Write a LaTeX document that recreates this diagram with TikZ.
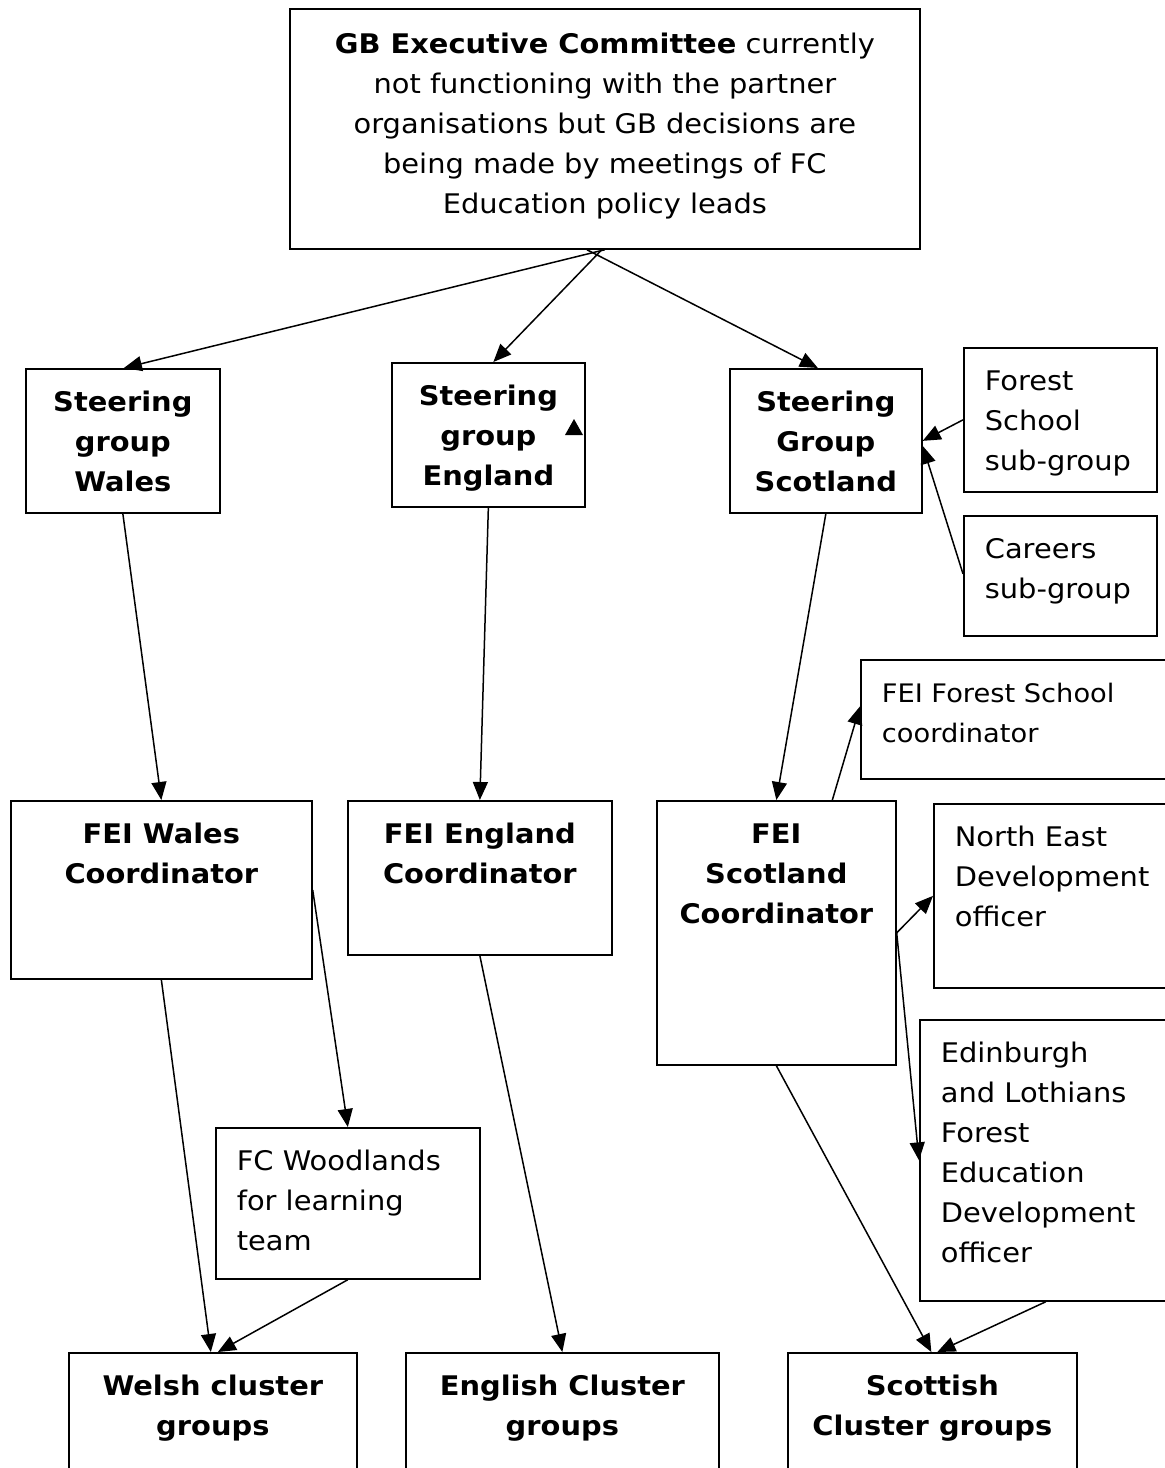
\documentclass[tikz,border=0pt]{standalone}
\usepackage{fontspec}
\setmainfont{DejaVu Sans}[FakeStretch=1.07]
\usetikzlibrary{arrows.meta,calc}
\tikzset{
  box/.style={draw, line width=1.7pt, inner xsep=0pt, inner ysep=0pt, anchor=north west,
              font=\fontsize{27}{40}\selectfont},
  conn/.style={line width=1.5pt, -{Triangle[length=18pt,width=15pt]}},
}
% centred box: name, x, y, w, h, text
\newcommand\cbox[6]{%
  \node[box] (#1) at (#2,#3) {\parbox[t][#5pt][t]{#4pt}{\centering\rule{0pt}{43pt}#6}};}
% left-aligned box: name, x, y, w, h, text
\newcommand\lbox[6]{%
  \node[box] (#1) at (#2,#3) {\parbox[t][#5pt][t]{#4pt}{\raggedright\leftskip=21pt\rule{0pt}{43pt}#6}};}
\begin{document}
\begin{tikzpicture}[x=1pt,y=-1pt]
\clip (0,0) rectangle (1165,1468);
\fill[white] (0,0) rectangle (1165,1468);

\node[box] (gb) at (289,8) {\parbox[t][240pt][t]{630pt}{\centering\rule{0pt}{45pt}\textbf{GB Executive Committee} currently\\not functioning with the partner\\organisations but GB decisions are\\being made by meetings of FC\\Education policy leads}};

\cbox{sw}{25}{368}{194}{144}{\bfseries Steering\\group\\Wales}
\cbox{se}{391}{362}{193}{144}{\bfseries Steering\\group\\England}
\cbox{ss}{729}{368}{192}{144}{\bfseries Steering\\Group\\Scotland}
\lbox{fs}{963}{347}{193}{144}{Forest\\School\\sub-group}
\lbox{car}{963}{515}{193}{120}{Careers\\sub-group}
\lbox{fsc}{860}{659}{340}{119}{\fontsize{25.5}{40}\selectfont FEI Forest School\\coordinator}

\cbox{fw}{10}{800}{301}{178}{\bfseries FEI Wales\\Coordinator}
\cbox{fe}{347}{800}{264}{154}{\bfseries FEI England\\Coordinator}
\cbox{fsco}{656}{800}{239}{264}{\bfseries FEI\\Scotland\\Coordinator}
\lbox{ne}{933}{803}{280}{184}{North East\\Development\\officer}
\lbox{ed}{919}{1019}{280}{281}{Edinburgh\\and Lothians\\Forest\\Education\\Development\\officer}
\lbox{fcw}{215}{1127}{264}{151}{FC Woodlands\\for learning\\team}

\cbox{wc}{68}{1352}{288}{140}{\bfseries Welsh cluster\\groups}
\cbox{ec}{405}{1352}{313}{140}{\bfseries English Cluster\\groups}
\cbox{sc}{787}{1352}{289}{140}{\bfseries Scottish\\Cluster groups}

% connectors
\draw[conn] (gb.south) -- ([xshift=1pt]sw.north);
\draw[conn] ([xshift=-3pt]gb.south) -- ([xshift=5pt]se.north);
\draw[conn] ([xshift=-18pt]gb.south) -- ([xshift=-8pt]ss.north);
\draw[conn] (fs.west) -- (ss.east);
\draw[conn] ([yshift=2pt]car.west) -- ([yshift=-5pt]ss.east);
\draw[conn] (sw.south) -- (fw.north);
\draw[conn] (se.south) -- (fe.north);
\draw[conn] (ss.south) -- (fsco.north);
\draw[conn] ([xshift=56pt]fsco.north) -- ([yshift=13pt]fsc.west);
\draw[conn] (fsco.east) -- (ne.west);
\draw[conn] (fsco.east) -- (ed.west);
\draw[conn] (fw.south) -- ([xshift=-2pt]wc.north);
\draw[conn] (fw.east) -- (fcw.north);
\draw[conn] (fcw.south) -- ([xshift=5pt]wc.north);
\draw[conn] (fe.south) -- (ec.north);
\draw[conn] (fsco.south) -- ([xshift=-1pt]sc.north);
\draw[conn] ([xshift=-14pt]ed.south) -- ([xshift=5pt]sc.north);

% stray arrowhead inside Steering group England
\fill (574,419) -- (565,435) -- (583,435) -- cycle;
\end{tikzpicture}
\end{document}
